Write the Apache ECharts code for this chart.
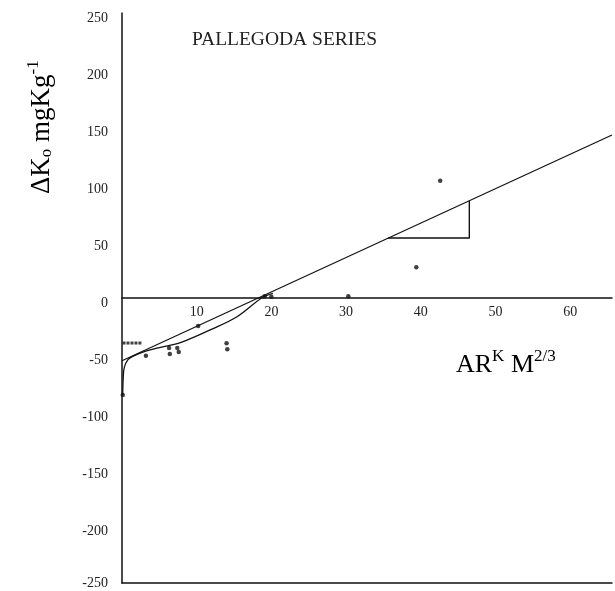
<!DOCTYPE html>
<html>
<head>
<meta charset="utf-8">
<script src="https://cdn.jsdelivr.net/npm/echarts@6/dist/echarts.min.js"></script>
<style>
  html, body { margin: 0; padding: 0; background: #fff; }
  #chart { width: 615px; height: 591px; }
</style>
</head>
<body>
<div id="chart"></div>
<script>
// Axis ticks
const xTickValues = [10, 20, 30, 40, 50, 60];
const yTickValues = [-250, -200, -150, -100, -50, 0, 50, 100, 150, 200, 250];
const xMax = 65.6;

// Straight regression line of the series
const fitLine = [[0, -55], [65.6, 143]];

// Slope triangle drawn against the fit line
const slopeTriangle = [[35.6, 52.6], [46.5, 52.6], [46.5, 85.4]];

// Curved trend through the low-x observations
const trendCurve = [
  [0.1, -85], [0.15, -72], [0.3, -61], [0.8, -54], [1.5, -51],
  [2.8, -47.4], [5.0, -43.5], [7.4, -40], [8.7, -37],
  [11.8, -28], [15.4, -16.4], [18.7, 0], [20.2, 4]
];

// Observations plotted as small dots
const dotRow = [[0.27, -39.5], [0.8, -39.5], [1.34, -39.5], [1.87, -39.5], [2.4, -39.5]];
const observations = [
  [0.1, -85], [3.2, -50.6], [6.3, -43.9], [6.4, -49.1], [7.4, -43.9], [7.6, -47.4],
  [14.0, -39.7], [14.1, -45], [10.2, -24.6], [19.1, 1.5], [20.0, 1.0],
  [30.3, 1.5], [42.6, 102.9], [39.4, 26.9]
];

const serif = '"Liberation Serif", "DejaVu Serif", serif';
const ink = '#111';

// Plot area geometry: full grid, plus an upper grid whose bottom edge is the y = 0 line
const plotLeft = 122, plotRight = 3, plotTop = 13, plotBottom = 8;
const plotHeight = 591 - plotTop - plotBottom;
const zeroOffset = plotHeight / 2;

const chart = echarts.init(document.getElementById('chart'), null, { renderer: 'canvas' });

const labelFont = { fontFamily: serif, fontSize: 14, color: '#222' };

chart.setOption({
  animation: false,
  backgroundColor: '#fff',
  grid: [
    { left: plotLeft, right: plotRight, top: plotTop, bottom: plotBottom, containLabel: false, outerBoundsMode: 'none' },
    { left: plotLeft, right: plotRight, top: plotTop, height: zeroOffset, containLabel: false, outerBoundsMode: 'none' }
  ],
  xAxis: [
    {
      gridIndex: 0,
      type: 'value',
      min: 0,
      max: xMax,
      position: 'bottom',
      axisLine: { show: true, onZero: false, lineStyle: { color: ink, width: 1.5 } },
      axisTick: { show: false },
      axisLabel: { show: false },
      splitLine: { show: false }
    },
    {
      gridIndex: 1,
      type: 'value',
      min: 0,
      max: xMax,
      interval: 10,
      position: 'bottom',
      axisLine: { show: true, onZero: false, lineStyle: { color: ink, width: 1.5 } },
      axisTick: { show: false },
      splitLine: { show: false },
      axisLabel: Object.assign({
        margin: 7,
        formatter: v => (xTickValues.indexOf(v) >= 0 ? String(v) : '')
      }, labelFont)
    }
  ],
  yAxis: [
    {
      gridIndex: 0,
      type: 'value',
      min: -250,
      max: 250,
      interval: 50,
      axisLine: { show: true, onZero: false, lineStyle: { color: ink, width: 1.5 } },
      axisTick: { show: false },
      splitLine: { show: false },
      axisLabel: Object.assign({
        margin: 14,
        // tick labels sit a little below their ticks, except the bottom one
        formatter: v => {
          if (yTickValues.indexOf(v) < 0) return '';
          return v === yTickValues[0] ? '{edge|' + v + '}' : '{low|' + v + '}';
        },
        rich: {
          low: { fontFamily: serif, fontSize: 14, color: '#222', padding: [10, 0, 0, 0] },
          edge: { fontFamily: serif, fontSize: 14, color: '#222' }
        }
      }, labelFont)
    },
    {
      gridIndex: 1,
      type: 'value',
      min: 0,
      max: 250,
      show: false
    }
  ],
  series: [
    {
      type: 'line',
      data: fitLine,
      symbol: 'none',
      lineStyle: { color: ink, width: 1.2 },
      silent: true
    },
    {
      type: 'line',
      data: slopeTriangle,
      symbol: 'none',
      lineStyle: { color: ink, width: 1.4 },
      silent: true
    },
    {
      type: 'line',
      data: trendCurve,
      symbol: 'none',
      smooth: 0.35,
      lineStyle: { color: ink, width: 1.3 },
      silent: true
    },
    {
      type: 'scatter',
      data: dotRow,
      symbol: 'rect',
      symbolSize: [3, 3],
      itemStyle: { color: ink },
      silent: true
    },
    {
      type: 'scatter',
      data: observations,
      symbol: 'circle',
      symbolSize: 4.5,
      itemStyle: { color: ink },
      silent: true
    }
  ],
  graphic: [
    {
      type: 'text',
      left: 192,
      top: 30,
      style: {
        text: 'PALLEGODA SERIES',
        font: '19.5px ' + serif,
        fill: '#222'
      }
    },
    {
      type: 'text',
      x: 456,
      y: 348,
      style: {
        text: '{m|AR}{s|K}{m| M}{s|2/3}',
        rich: {
          m: { fontFamily: serif, fontSize: 26, lineHeight: 30, verticalAlign: 'bottom', fill: '#000' },
          s: { fontFamily: serif, fontSize: 17, lineHeight: 17, verticalAlign: 'top', fill: '#000' }
        }
      }
    },
    {
      type: 'text',
      x: 25,
      y: 194,
      rotation: Math.PI / 2,
      style: {
        text: '{m|\u0394K}{b|o}{m| mgKg}{s|-1}',
        rich: {
          m: { fontFamily: serif, fontSize: 27, lineHeight: 30, verticalAlign: 'bottom', fill: '#000' },
          b: { fontFamily: serif, fontSize: 17, lineHeight: 15, verticalAlign: 'bottom', fill: '#000' },
          s: { fontFamily: serif, fontSize: 17, lineHeight: 16, verticalAlign: 'top', fill: '#000' }
        }
      }
    }
  ]
});
</script>
</body>
</html>
